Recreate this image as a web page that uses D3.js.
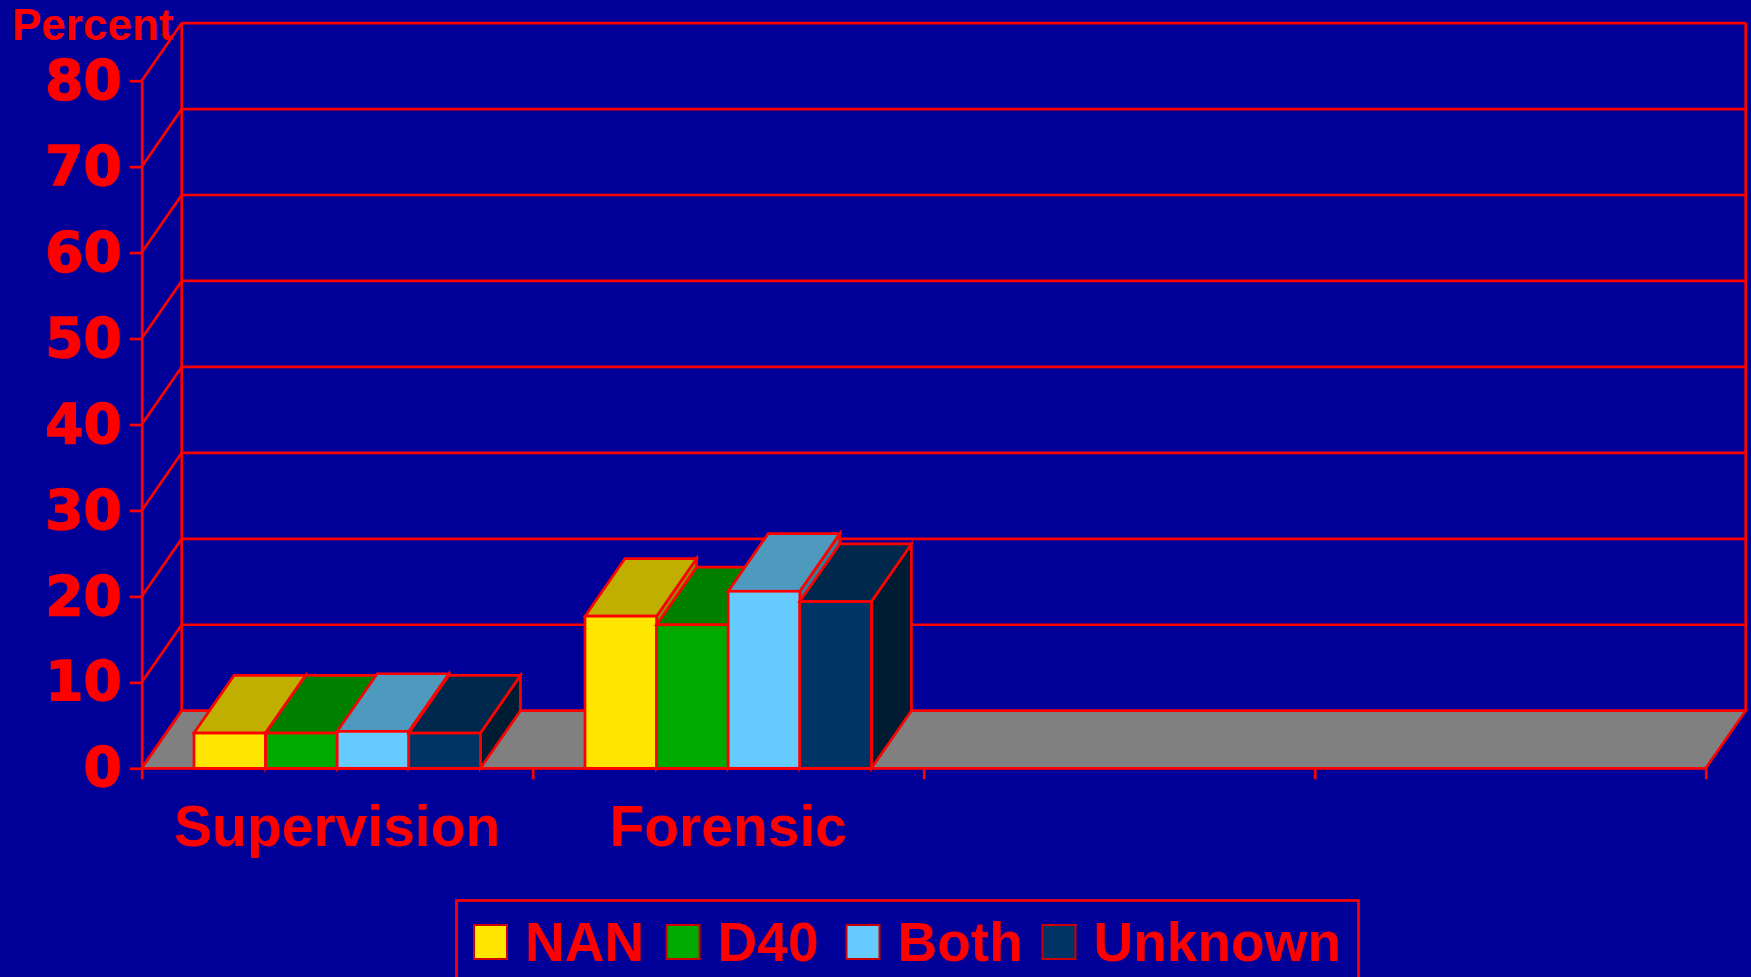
<!DOCTYPE html>
<html>
<head>
<meta charset="utf-8">
<script src="https://cdn.jsdelivr.net/npm/d3@7"></script>
<style>
  html, body { margin: 0; padding: 0; background: #000099; }
  svg { display: block; }
  .tick-label { font-family: 'DejaVu Sans', Verdana, sans-serif; font-weight: bold; fill: #ff0000; stroke: #ff0000; stroke-width: 1.4px; }
  .title-label, .cat-label, .legend-label { font-family: 'Liberation Sans', Arial, sans-serif; font-weight: bold; fill: #ff0000; }
</style>
</head>
<body>
<div id="chart"></div>
<script>
// data
const categories = ['Supervision', 'Forensic', '', ''];
const series = ['NAN', 'D40', 'Both', 'Unknown'];
const nanValues = [4.1, 17.7];
const d40Values = [4.1, 16.7];
const bothValues = [4.3, 20.6];
const unknownValues = [4.1, 19.4];
const yTicks = [0, 10, 20, 30, 40, 50, 60, 70, 80];

const frontColors = ['#ffe600', '#00aa00', '#66ccff', '#003366'];
const topColors = ['#c0ae00', '#008000', '#4d9abe', '#00284c'];
const sideColors = ['#9a8a00', '#006400', '#3d7a99', '#001c33'];

const seriesValues = [nanValues, d40Values, bothValues, unknownValues];

const width = 1751;
const height = 977;
const red = '#ff0000';
const lw = 2.7;

// front plane and depth offset of the 3d box
const plot = { left: 141.7, right: 1705.7, top: 80.7, bottom: 768.3 };
const depth = { dx: 40, dy: 57.6 };

const svg = d3.select('#chart').append('svg')
  .attr('width', width)
  .attr('height', height)
  .attr('viewBox', `0 0 ${width} ${height}`);

svg.append('rect').attr('width', width).attr('height', height).attr('fill', '#000099');

const xScale = d3.scaleBand()
  .domain(d3.range(categories.length))
  .range([plot.left, plot.right])
  .padding(0);

const xSub = d3.scaleBand()
  .domain(series)
  .range([0, xScale.bandwidth()])
  .paddingInner(0)
  .paddingOuter(0.73);

const yScale = d3.scaleLinear()
  .domain([0, 80])
  .range([plot.bottom, plot.top]);

const y0 = yScale(0);

// back wall + left wall gridlines
const walls = svg.append('g')
  .attr('fill', 'none')
  .attr('stroke', red)
  .attr('stroke-width', lw);

walls.selectAll('line.grid')
  .data(yTicks.filter((d) => d > 0))
  .join('line')
  .attr('class', 'grid')
  .attr('x1', plot.left + depth.dx)
  .attr('x2', plot.right + depth.dx)
  .attr('y1', (d) => yScale(d) - depth.dy)
  .attr('y2', (d) => yScale(d) - depth.dy);

walls.selectAll('line.side')
  .data(yTicks)
  .join('line')
  .attr('class', 'side')
  .attr('x1', plot.left)
  .attr('x2', plot.left + depth.dx)
  .attr('y1', (d) => yScale(d))
  .attr('y2', (d) => yScale(d) - depth.dy);

walls.selectAll('line.edge')
  .data([plot.left + depth.dx, plot.right + depth.dx])
  .join('line')
  .attr('class', 'edge')
  .attr('x1', (d) => d)
  .attr('x2', (d) => d)
  .attr('y1', yScale(80) - depth.dy)
  .attr('y2', y0 - depth.dy);

// floor
svg.append('polygon')
  .attr('points', [
    [plot.left, y0],
    [plot.left + depth.dx, y0 - depth.dy],
    [plot.right + depth.dx, y0 - depth.dy],
    [plot.right, y0],
  ].map((p) => p.join(',')).join(' '))
  .attr('fill', '#808080')
  .attr('stroke', red)
  .attr('stroke-width', lw);

// y axis
const yAxis = svg.append('g')
  .attr('transform', `translate(${plot.left}, 0)`)
  .call(d3.axisLeft(yScale).tickValues(yTicks).tickSize(12).tickSizeOuter(0).tickPadding(8));

yAxis.select('.domain').attr('stroke', red).attr('stroke-width', lw);
yAxis.selectAll('.tick line').attr('stroke', red).attr('stroke-width', lw);
yAxis.selectAll('.tick text')
  .attr('class', 'tick-label')
  .attr('fill', red)
  .style('font-size', '55px');

// category boundary ticks under the floor
const xEdges = d3.scaleLinear().domain([0, categories.length]).range([plot.left, plot.right]);
const xAxis = svg.append('g')
  .attr('transform', `translate(0, ${y0})`)
  .call(d3.axisBottom(xEdges).tickValues(d3.range(categories.length + 1)).tickFormat('').tickSize(11).tickSizeOuter(0));
xAxis.select('.domain').remove();
xAxis.selectAll('.tick line').attr('stroke', red).attr('stroke-width', lw);

// bars
const barData = [];
categories.forEach((cat, ci) => {
  series.forEach((s, si) => {
    const v = seriesValues[si][ci];
    if (v === undefined) return;
    barData.push({ ci, si, s, v });
  });
});

const bars = svg.append('g').attr('class', 'bars')
  .selectAll('g')
  .data(barData)
  .join('g')
  .attr('stroke', red)
  .attr('stroke-width', lw)
  .attr('stroke-linejoin', 'miter');

const pts = (arr) => arr.map((p) => p.join(',')).join(' ');

bars.each(function (d) {
  const g = d3.select(this);
  const x0 = xScale(d.ci) + xSub(d.s);
  const x1 = x0 + xSub.bandwidth();
  const yv = yScale(d.v);
  g.append('polygon')
    .attr('points', pts([[x1, yv], [x1 + depth.dx, yv - depth.dy], [x1 + depth.dx, y0 - depth.dy], [x1, y0]]))
    .attr('fill', sideColors[d.si]);
  g.append('polygon')
    .attr('points', pts([[x0, yv], [x0 + depth.dx, yv - depth.dy], [x1 + depth.dx, yv - depth.dy], [x1, yv]]))
    .attr('fill', topColors[d.si]);
  g.append('rect')
    .attr('x', x0)
    .attr('y', yv)
    .attr('width', x1 - x0)
    .attr('height', y0 - yv)
    .attr('fill', frontColors[d.si]);
});

// category labels
svg.append('g').selectAll('text')
  .data(categories)
  .join('text')
  .attr('class', 'cat-label')
  .attr('x', (d, i) => xScale(i) + xScale.bandwidth() / 2)
  .attr('y', 845.7)
  .attr('text-anchor', 'middle')
  .style('font-size', '57px')
  .text((d) => d);

// axis title
svg.append('text')
  .attr('class', 'title-label')
  .attr('x', 12)
  .attr('y', 40)
  .style('font-size', '44px')
  .text('Percent');

// legend
const legend = svg.append('g');
legend.append('rect')
  .attr('x', 456.5)
  .attr('y', 900.5)
  .attr('width', 902)
  .attr('height', 120)
  .attr('fill', 'none')
  .attr('stroke', red)
  .attr('stroke-width', lw);

const legendX = [474, 666.6, 846.5, 1042.5];
const legendItems = legend.selectAll('g.item')
  .data(series)
  .join('g')
  .attr('class', 'item')
  .attr('transform', (d, i) => `translate(${legendX[i]}, 0)`);

legendItems.append('rect')
  .attr('y', 925)
  .attr('width', 33)
  .attr('height', 34)
  .attr('fill', (d, i) => frontColors[i])
  .attr('stroke', '#cc0000')
  .attr('stroke-width', 2);

legendItems.append('text')
  .attr('class', 'legend-label')
  .attr('x', 51)
  .attr('y', 961)
  .style('font-size', '55px')
  .text((d) => d);
</script>
</body>
</html>
